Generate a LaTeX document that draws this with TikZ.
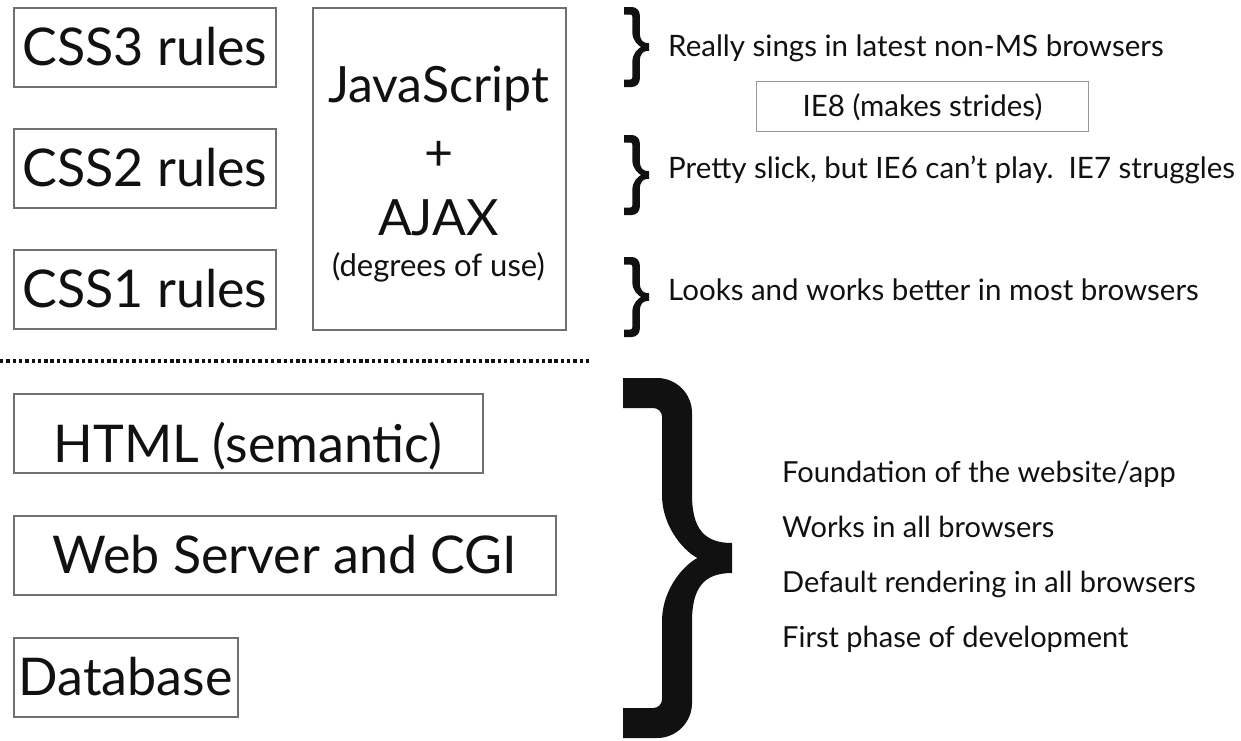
\documentclass[tikz,border=0pt]{standalone}
\usepackage{fontspec}
\setmainfont{Lato}
\definecolor{boxgray}{HTML}{707070}
\definecolor{ink}{HTML}{111111}
\newcommand{\bracefill}[5]{%
 \pgfmathsetmacro{\zbL}{#1}%
 \pgfmathsetmacro{\zbT}{#2}%
 \pgfmathsetmacro{\zbR}{#1+#3}%
 \pgfmathsetmacro{\zbB}{#2+#4}%
 \pgfmathsetmacro{\zbM}{#2+#4/2}%
 \pgfmathsetmacro{\zbsr}{#1+0.633*#3}%
 \pgfmathsetmacro{\zbsl}{\zbsr-#5}%
 \pgfmathsetmacro{\zbr}{0.32*#3}%
 \pgfmathsetmacro{\zbri}{0.25*\zbr}%
 \pgfmathsetmacro{\zbhh}{#5/2}%
 \pgfmathsetmacro{\zbc}{0.135*#4}%
 \pgfmathsetmacro{\zbcc}{\zbc+\zbhh}%
 \pgfmathsetmacro{\zbN}{\zbsr+0.05*#3}%
 \fill[ink] (\zbL,\zbT) -- ({\zbsr-\zbr},\zbT)
  .. controls ({\zbsr-0.45*\zbr},\zbT) and (\zbsr,{\zbT+0.45*\zbr}) .. (\zbsr,{\zbT+\zbr})
  -- (\zbsr,{\zbM-\zbhh-\zbc})
  .. controls (\zbsr,{\zbM-\zbhh-0.3*\zbc}) and ({\zbsr+0.3*(\zbR-\zbsr)},{\zbM-\zbhh}) .. (\zbR,{\zbM-\zbhh})
  -- (\zbR,{\zbM+\zbhh})
  .. controls ({\zbsr+0.3*(\zbR-\zbsr)},{\zbM+\zbhh}) and (\zbsr,{\zbM+\zbhh+0.3*\zbc}) .. (\zbsr,{\zbM+\zbhh+\zbc})
  -- (\zbsr,{\zbB-\zbr})
  .. controls (\zbsr,{\zbB-0.45*\zbr}) and ({\zbsr-0.45*\zbr},\zbB) .. ({\zbsr-\zbr},\zbB)
  -- (\zbL,\zbB) -- (\zbL,{\zbB-#5})
  -- ({\zbsl-\zbri},{\zbB-#5})
  .. controls ({\zbsl-0.45*\zbri},{\zbB-#5}) and (\zbsl,{\zbB-#5-0.45*\zbri}) .. (\zbsl,{\zbB-#5-\zbri})
  -- (\zbsl,{\zbM+\zbcc})
  .. controls (\zbsl,{\zbM+0.45*\zbcc}) and ({\zbN-0.3*(\zbN-\zbsl)},{\zbM+0.08*\zbcc}) .. (\zbN,\zbM)
  .. controls ({\zbN-0.3*(\zbN-\zbsl)},{\zbM-0.08*\zbcc}) and (\zbsl,{\zbM-0.45*\zbcc}) .. (\zbsl,{\zbM-\zbcc})
  -- (\zbsl,{\zbT+#5+\zbri})
  .. controls (\zbsl,{\zbT+#5+0.45*\zbri}) and ({\zbsl-0.45*\zbri},{\zbT+#5}) .. ({\zbsl-\zbri},{\zbT+#5})
  -- (\zbL,{\zbT+#5}) -- cycle;%
}
\begin{document}
\begin{tikzpicture}[x=1pt,y=-1pt,
  bigbox/.style={draw=boxgray, line width=1.6pt, rectangle, inner sep=0pt, anchor=north west,
    text=ink, font=\fontsize{52}{60}\selectfont, text height=37pt, text depth=0pt},
  bigtext/.style={inner sep=0pt, anchor=base, text=ink, font=\fontsize{50}{60}\selectfont},
  smalltext/.style={inner sep=0pt, anchor=base, text=ink, font=\fontsize{31}{36}\selectfont},
  note/.style={inner sep=0pt, anchor=base west, text=ink, font=\fontsize{29.5}{34}\selectfont},
  footnote/.style={inner sep=0pt, anchor=base west, text=ink, font=\fontsize{29}{34}\selectfont},
  iebox/.style={draw=black!40, line width=0.9pt, rectangle, inner sep=0pt, anchor=north west,
    text=ink, font=\fontsize{29.5}{34}\selectfont, text height=21pt, text depth=0pt},
  dotline/.style={draw=ink, line width=3.5pt, dash pattern=on 3.4pt off 2.9pt}]
\useasboundingbox[fill=white] (0,0) rectangle (1241,740);

% upper-left boxes
\node[bigbox, minimum width=262pt, minimum height=79pt] (css3) at (13,7) {CSS3 rules};
\node[bigbox, minimum width=262pt, minimum height=79pt] (css2) at (13,128) {CSS2 rules};
\node[bigbox, minimum width=262pt, minimum height=79pt] (css1) at (13,249) {CSS1 rules};

% JavaScript box
\node[bigbox, minimum width=253pt, minimum height=322pt] (js) at (312,7) {};
\node[bigtext] (jstxt) at (438.5,102) {JavaScript};
\node[bigtext] (plus) at (438.5,170) {+};
\node[bigtext] (ajax) at (438.5,235) {AJAX};
\node[smalltext] (deg) at (438.5,276) {(degrees of use)};

% dotted separator
\coordinate (d0) at (0,361);
\coordinate (d1) at (590,361);
\draw[dotline] (d0) -- (d1);

% lower-left boxes
\node[bigbox, minimum width=469pt, minimum height=79pt, text height=59pt] (html) at (13,393) {HTML (semantic)};
\node[bigbox, minimum width=542pt, minimum height=79pt] (web) at (13,515) {Web Server and CGI};
\node[bigbox, minimum width=224pt, minimum height=79pt] (db) at (13,637) {Database};

% small braces and notes
\bracefill{624}{7}{25}{80}{7.5}
\bracefill{624}{135}{25}{80}{7.5}
\bracefill{624}{257}{25}{80}{7.5}
\node[note] (n1) at (668,56) {Really sings in latest non-MS browsers};
\node[iebox, minimum width=332pt, minimum height=50pt] (ie8) at (756,81) {IE8 (makes strides)};
\node[note] (n2) at (668,178) {Pretty slick, but IE6 can’t play.\ \ IE7 struggles};
\node[note] (n3) at (668,300) {Looks and works better in most browsers};

% big brace and foundation notes
\bracefill{623}{378}{109}{360}{30}
\node[footnote] (f1) at (782,482) {Foundation of the website/app};
\node[footnote] (f2) at (782,537) {Works in all browsers};
\node[footnote] (f3) at (782,592) {Default rendering in all browsers};
\node[footnote] (f4) at (782,647) {First phase of development};
\end{tikzpicture}
\end{document}
